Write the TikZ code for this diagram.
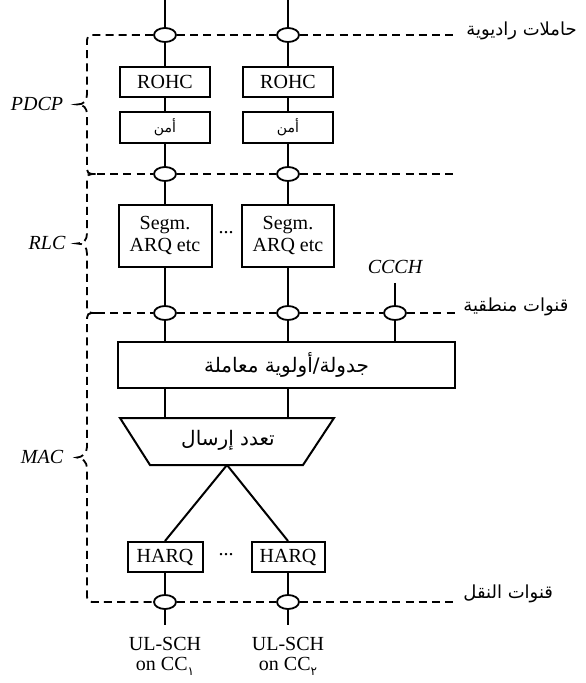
\documentclass[tikz,border=0pt]{standalone}
\usepackage{fontspec}
\setmainfont{Liberation Serif}
\newfontfamily\arabicfont[Script=Arabic]{DejaVu Sans}
\TeXXeTstate=1
\usetikzlibrary{shapes.geometric}

% Arabic text, set right to left
\newcommand\artxt[1]{{\arabicfont\beginR #1\endR}}
% carrier index as a lowered Arabic-Indic digit
\newcommand\ccidx[1]{\raisebox{-0.5ex}{\arabicfont\fontsize{6}{6}\selectfont #1}}

\begin{document}
\begin{tikzpicture}[x=0.5pt,y=-0.5pt,
  box/.style={draw, line width=1pt, inner sep=0pt, align=center,
              font=\fontsize{10}{11}\selectfont},
  port/.style={draw, ellipse, line width=0.9pt, minimum width=11pt,
               minimum height=7pt, inner sep=0pt},
  wire/.style={line width=1pt},
  layer/.style={line width=0.9pt, dash pattern=on 4pt off 2.6pt},
  lbl/.style={inner sep=0pt, font=\fontsize{10}{12}\selectfont\itshape},
  arlbl/.style={anchor=west, inner sep=0pt, font=\fontsize{9}{10}\selectfont},
  outlbl/.style={anchor=north, inner xsep=0pt, inner ysep=6pt, align=center,
                 font=\fontsize{10}{10}\selectfont}]

\useasboundingbox (0,0) rectangle (585,683);

% ---- columns entering from the top
\coordinate (in1) at (165,0);
\coordinate (in2) at (288,0);

% ---- service access points on the layer borders
\node[port] (pa1) at (165,35) {};
\node[port] (pa2) at (288,35) {};
\node[port] (pb1) at (165,174) {};
\node[port] (pb2) at (288,174) {};
\node[port] (pc1) at (165,313) {};
\node[port] (pc2) at (288,313) {};
\node[port] (pc3) at (395,313) {};
\node[port] (pd1) at (165,602) {};
\node[port] (pd2) at (288,602) {};

% ---- PDCP
\node[box, minimum width=45pt, minimum height=15pt] (rohc1) at (165,82) {ROHC};
\node[box, minimum width=45pt, minimum height=15pt] (rohc2) at (288,82) {ROHC};
\node[box, minimum width=45pt, minimum height=15.5pt, font=\fontsize{7}{8}\selectfont] (sec1) at (165,127.5) {\artxt{أمن}};
\node[box, minimum width=45pt, minimum height=15.5pt, font=\fontsize{7}{8}\selectfont] (sec2) at (288,127.5) {\artxt{أمن}};

% ---- RLC
\node[box, minimum width=46.5pt, minimum height=31pt] (rlc1) at (165,236) {Segm.\\ARQ etc};
\node[box, minimum width=46pt, minimum height=31pt] (rlc2) at (288,236) {Segm.\\ARQ etc};
\node[inner sep=0pt, font=\fontsize{10}{11}\selectfont] (dots1) at (226,233) {...};
\node[lbl] (ccch) at (395,267) {CCCH};
\coordinate (cctop) at (395,283);

% ---- MAC
\node[box, minimum width=168.5pt, minimum height=23pt] (sched) at (286.5,365)
  {\artxt{جدولة/أولوية معاملة}};
\draw[line width=1pt] (120,418) -- (334,418) -- (303,465) -- (150,465) -- cycle;
\node[inner sep=0pt, font=\fontsize{10}{11}\selectfont] (mux) at (228,440) {\artxt{تعدد إرسال}};
\coordinate (mxin1) at (165,418);
\coordinate (mxin2) at (288,418);
\coordinate (apex) at (227,465);
\node[box, minimum width=37.5pt, minimum height=15pt] (harq1) at (165,557) {HARQ};
\node[box, minimum width=36.5pt, minimum height=15pt] (harq2) at (288,557) {HARQ};
\node[inner sep=0pt, font=\fontsize{10}{11}\selectfont] (dots2) at (226,555) {...};

% ---- transport channels
\node[outlbl] (out1) at (165,625) {UL-SCH\\on CC\ccidx{١}};
\node[outlbl] (out2) at (288,625) {UL-SCH\\on CC\ccidx{٢}};

% ---- vertical data paths
\foreach \c in {1,2} {
  \draw[wire] (in\c) -- (pa\c.north);
  \draw[wire] (pa\c.south) -- (rohc\c.north);
  \draw[wire] (rohc\c.south) -- (sec\c.north);
  \draw[wire] (sec\c.south) -- (pb\c.north);
  \draw[wire] (pb\c.south) -- (rlc\c.north);
  \draw[wire] (rlc\c.south) -- (pc\c.north);
  \draw[wire] (pc\c.south) -- (sched.north -| pc\c);
  \draw[wire] (sched.south -| mxin\c) -- (mxin\c);
  \draw[wire] (apex) -- (harq\c.north);
  \draw[wire] (harq\c.south) -- (pd\c.north);
  \draw[wire] (pd\c.south) -- (out\c.north);
}
\draw[wire] (cctop) -- (pc3.north);
\draw[wire] (pc3.south) -- (sched.north -| pc3);

% ---- layer borders with braces on the left
\draw[layer] (pa1.west) -- (97,35) .. controls (87,35) .. (87,45)
  -- (87,94) .. controls (87,101) and (84,104.5) .. (77,104.5)
  .. controls (84,104.5) and (87,108) .. (87,115)
  -- (87,164) .. controls (87,174) .. (97,174)
  .. controls (87,174) .. (87,184)
  -- (87,233) .. controls (87,240) and (84,243.5) .. (77,243.5)
  .. controls (84,243.5) and (87,247) .. (87,254)
  -- (87,303) .. controls (87,313) .. (97,313)
  .. controls (87,313) .. (87,323)
  -- (87,447) .. controls (87,453) and (82,457.5) .. (77,457.5)
  .. controls (82,457.5) and (87,462) .. (87,468)
  -- (87,592) .. controls (87,602) .. (97,602) -- (pd1.west);
\draw[layer] (97,174) -- (pb1.west);
\draw[layer] (97,313) -- (pc1.west);
\draw[layer] (pa1.east) -- (pa2.west);
\draw[layer] (pb1.east) -- (pb2.west);
\draw[layer] (pc1.east) -- (pc2.west);
\draw[layer] (pc2.east) -- (pc3.west);
\draw[layer] (pd1.east) -- (pd2.west);
\draw[layer] (pa2.east) -- (458,35);
\draw[layer] (pb2.east) -- (458,174);
\draw[layer] (pc3.east) -- (458,313);
\draw[layer] (pd2.east) -- (458,602);

% ---- layer names
\node[lbl] (pdcp) at (37,104) {PDCP};
\node[lbl] (rlc) at (47,243) {RLC};
\node[lbl] (mac) at (42,457) {MAC};

% ---- channel names on the right
\node[arlbl] (rb) at (466,31) {\artxt{حاملات راديوية}};
\node[arlbl] (lch) at (463,307) {\artxt{قنوات منطقية}};
\node[arlbl] (tch) at (463,594) {\artxt{قنوات النقل}};
\end{tikzpicture}
\end{document}
